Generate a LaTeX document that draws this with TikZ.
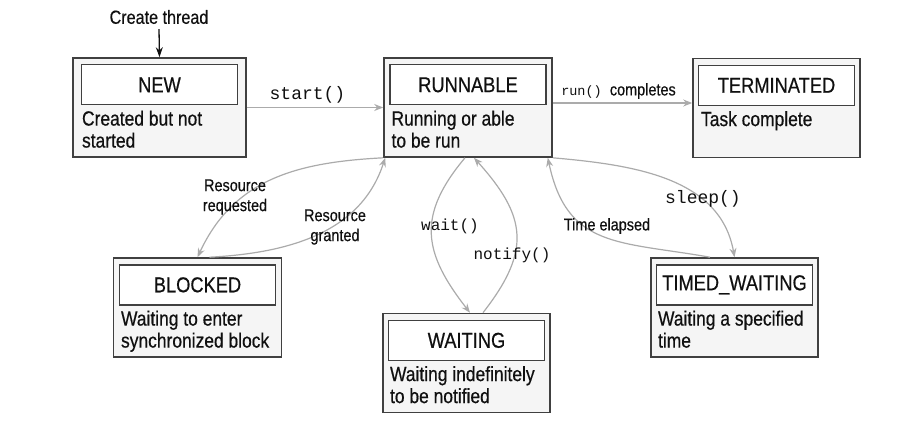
\documentclass[tikz,border=0pt]{standalone}
\usepackage{fontspec}
\setmainfont[FakeStretch=0.85, FakeBold=0.5]{Liberation Sans}
\setmonofont{Liberation Mono}
\usetikzlibrary{positioning,arrows.meta}

\definecolor{boxline}{HTML}{404040}
\definecolor{boxfill}{HTML}{F5F5F5}
\definecolor{flowgray}{HTML}{ABABAB}
\definecolor{inkblack}{HTML}{101010}

\tikzset{
    statebox/.style={draw=boxline, line width=1.6pt, fill=boxfill, minimum width=168pt, minimum height=99pt, inner sep=0pt},
    titlebox/.style={draw=boxline, line width=1.3pt, fill=white, minimum width=156pt, minimum height=40pt, inner sep=0pt, text=inkblack, font=\fontsize{21.5}{24}\selectfont},
    desc/.style={align=left, inner sep=0pt, text=inkblack, font=\fontsize{20.5}{22}\selectfont},
    flow/.style={draw=flowgray, line width=1.2pt, -{Stealth[length=9pt,width=7pt]}},
    lbl/.style={align=center, inner sep=0pt, text=inkblack, font=\fontsize{17}{20}\selectfont},
    code/.style={inner sep=0pt, text=inkblack, font=\ttfamily\fontsize{18}{20}\selectfont},
}

\begin{document}
\begin{tikzpicture}[x=1pt, y=1pt]
    \useasboundingbox (0, 0) rectangle (911, -436);

    % NEW
    \node[statebox, minimum width=173pt] (new) at (159.5, -107.5) {};
    \node[titlebox, below=7pt of new.north] (newt) {NEW};
    \node[desc, below right=5pt and 1pt of newt.south west] (newd) {Created but not\\started};

    % RUNNABLE
    \node[statebox] (run) at (468, -107.5) {};
    \node[titlebox, below=7pt of run.north] (runt) {RUNNABLE};
    \node[desc, below right=5pt and 2pt of runt.south west] (rund) {Running or able\\to be run};

    % TERMINATED
    \node[statebox, minimum width=167pt] (term) at (776.5, -108) {};
    \node[titlebox, below=7pt of term.north] (termt) {TERMINATED};
    \node[desc, below right=5pt and 3pt of termt.south west] (termd) {Task complete};

    % BLOCKED
    \node[statebox] (blocked) at (197.5, -307.5) {};
    \node[titlebox, below=7pt of blocked.north] (blockedt) {BLOCKED};
    \node[desc, below right=5pt and 2pt of blockedt.south west] (blockedd) {Waiting to enter\\synchronized block};

    % WAITING
    \node[statebox, minimum width=167pt] (wait) at (466.5, -363) {};
    \node[titlebox, below=7pt of wait.north] (waitt) {WAITING};
    \node[desc, below right=5pt and 2pt of waitt.south west] (waitd) {Waiting indefinitely\\to be notified};

    % TIMED_WAITING
    \node[statebox, minimum width=167pt] (timed) at (734.5, -307.5) {};
    \node[titlebox, below=7pt of timed.north] (timedt) {TIMED\_WAITING};
    \node[desc, below right=5pt and 2pt of timedt.south west] (timedd) {Waiting a specified\\time};

    % Create thread
    \node[lbl, font=\fontsize{19}{22}\selectfont] (create) at (159, -17) {Create thread};
    \draw[draw=inkblack, line width=1.3pt, -{Stealth[length=10pt,width=7pt]}] ([yshift=-5pt]create.south) -- (new.north);

    % top arrows
    \draw[flow] (new.east) -- (run.west);
    \node[code] (startl) at (307.5, -95) {start()};
    \draw[flow] ([yshift=4.5pt]run.east) -- ([yshift=5pt]term.west);
    \node[lbl] (runl) at (618.5, -91) {\ttfamily\fontsize{13.5}{16}\selectfont run() \rmfamily\fontsize{17}{20}\selectfont completes};

    % BLOCKED arrows
    \draw[flow] (run.south west) to[out=183, in=65, looseness=1.05] (blocked.north);
    \draw[flow] ([xshift=12pt]blocked.north) to[out=3, in=-108] ([xshift=2pt]run.south west);
    \node[lbl] (reql) at (235, -197) {Resource\\requested};
    \node[lbl] (grantl) at (335, -227) {Resource\\granted};

    % WAITING arrows
    \draw[flow] ([xshift=-3pt]run.south) to[out=-130, in=128, looseness=1.25] ([xshift=3.5pt]wait.north);
    \draw[flow] ([xshift=16.5pt]wait.north) to[out=52, in=-48, looseness=1.3] ([xshift=6pt]run.south);
    \node[code, font=\ttfamily\fontsize{16}{18}\selectfont] (waitl) at (450, -226) {wait()};
    \node[code, font=\ttfamily\fontsize{16}{18}\selectfont] (notifyl) at (512, -255) {notify()};

    % TIMED_WAITING arrows
    \draw[flow] ([xshift=-24.5pt]timed.north) to[out=170, in=-78, looseness=1.25] ([xshift=-5pt]run.south east);
    \draw[flow] (run.south east) to[out=-5, in=100] (timed.north);
    \node[lbl] (elapsedl) at (607, -226) {Time elapsed};
    \node[code] (sleepl) at (703, -199) {sleep()};
\end{tikzpicture}
\end{document}
